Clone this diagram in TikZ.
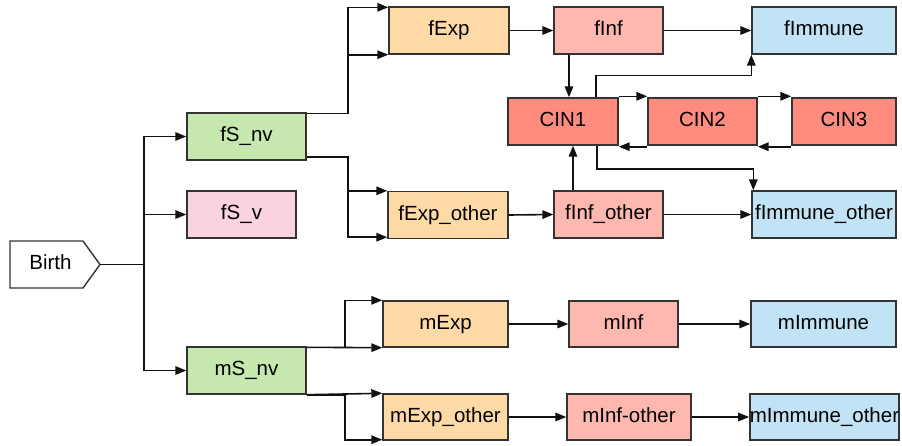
\documentclass[tikz,border=0pt]{standalone}
\usepackage{fontspec}
\setmainfont{Liberation Sans}
\usetikzlibrary{arrows.meta}
\definecolor{cgreen}{HTML}{C6E7AE}
\definecolor{cpink}{HTML}{F9D3DF}
\definecolor{corange}{HTML}{FFDAA6}
\definecolor{cinf}{HTML}{FFB8AF}
\definecolor{ccin}{HTML}{FF8C7E}
\definecolor{cblue}{HTML}{C2E3F5}
\definecolor{cline}{HTML}{111111}
\tikzset{
  lbl/.style={font=\fontsize{20.5pt}{24pt}\selectfont, text=black},
  box/.style={lbl, draw=black!80, line width=1.4pt, inner sep=0pt, minimum height=47pt,
    text height=15pt, text depth=4.5pt},
  arr/.style={draw=cline, line width=1.6pt, -{Triangle[length=11pt,width=8.5pt]}},
  ln/.style={draw=cline, line width=1.6pt},
}
\begin{document}
\begin{tikzpicture}[x=1pt,y=-1pt]
\useasboundingbox (0,0) rectangle (902,445);
% Birth
\coordinate (birthtip) at (100,264.5);
\draw[draw=black!80, line width=1.4pt, fill=white] (10,241) -- (83,241) -- (birthtip) -- (83,288) -- (10,288) -- cycle;
\node[lbl, inner sep=0pt, text height=15pt, text depth=4.5pt] (birth) at (50.5,264.5) {Birth};
\coordinate (trunk) at (144,264.5);

% boxes
\node[box, fill=cgreen, minimum width=119pt] (fSnv) at (246.5,136.5) {fS\_nv};
\node[box, fill=cpink, minimum width=109pt] (fSv) at (241.5,214.5) {fS\_v};
\node[box, fill=cgreen, minimum width=119pt] (mSnv) at (246.5,370.5) {mS\_nv};
\node[box, fill=corange, minimum width=120pt] (fExp) at (449,30.5) {fExp};
\node[box, fill=corange, minimum width=120pt] (fExpo) at (448,215) {fExp\_other};
\node[box, fill=cinf, minimum width=109pt] (fInf) at (608.5,30.5) {fInf};
\node[box, fill=cblue, minimum width=144pt] (fImm) at (824,30.5) {fImmune};
\node[box, fill=ccin, minimum width=110pt] (cin1) at (563,121.5) {CIN1};
\node[box, fill=ccin, minimum width=109pt] (cin2) at (702.5,121.5) {CIN2};
\node[box, fill=ccin, minimum width=104pt] (cin3) at (844,121.5) {CIN3};
\node[box, fill=cinf, minimum width=109pt] (fInfo) at (608.5,214.5) {fInf\_other};
\node[box, fill=cblue, minimum width=144pt] (fImmo) at (824,214.5) {fImmune\_other};
\node[box, fill=corange, minimum width=125pt, minimum height=46pt] (mExp) at (445.5,324) {mExp};
\node[box, fill=corange, minimum width=125pt, minimum height=46pt] (mExpo) at (445.5,417) {mExp\_other};
\node[box, fill=cinf, minimum width=109pt, minimum height=46pt] (mInf) at (623.5,324) {mInf};
\node[box, fill=cinf, minimum width=124pt, minimum height=46pt] (mInfo) at (629,417) {mInf-other};
\node[box, fill=cblue, minimum width=145pt, minimum height=46pt] (mImm) at (823.5,324) {mImmune};
\node[box, fill=cblue, minimum width=147pt, minimum height=46pt] (mImmo) at (824.5,417) {mImmune\_other};

% Birth trunk
\draw[ln] (birthtip) -- (trunk);
\draw[arr] (trunk) |- (fSnv.west);
\draw[arr] (trunk) |- (fSv.west);
\draw[arr] (trunk) |- (mSnv.west);

% fS_nv branches
\draw[arr] ([yshift=-1pt]fSnv.north east) -- ++(41,0) |- ([yshift=-1pt]fExp.north west);
\draw[arr] ([yshift=-1pt]fSnv.north east) -- ++(41,0) |- (fExp.south west);
\draw[arr] ([yshift=4pt]fSnv.south east) -- ++(41,0) |- (fExpo.north west);
\draw[arr] ([yshift=4pt]fSnv.south east) -- ++(41,0) |- ([yshift=2pt]fExpo.south west);

% f chain
\draw[arr] (fExp.east) -- (fInf.west);
\draw[arr] (fInf.east) -- (fImm.west);
\draw[arr] (fExpo.east) -- (fInfo.west);
\draw[arr] (fInfo.east) -- (fImmo.west);
\draw[arr] ([xshift=-39.5pt]fInf.south) -- ([xshift=6pt]cin1.north);
\draw[arr] ([xshift=-35.5pt]fInfo.north) -- ([xshift=10pt]cin1.south);

% CIN
\draw[arr] ([yshift=1pt]cin1.north east) -- ([yshift=1pt]cin2.north west);
\draw[arr] ([yshift=-1pt]cin2.south west) -- ([yshift=-1pt]cin1.south east);
\draw[arr] ([yshift=1pt]cin2.north east) -- ([yshift=1pt]cin3.north west);
\draw[arr] ([yshift=-1pt]cin3.south west) -- ([yshift=-1pt]cin2.south east);
\draw[arr] ([xshift=33pt]cin1.north) -- ++(0,-22) -| (fImm.south west);
\draw[arr] ([xshift=34pt]cin1.south) -- ++(0,23) -| ([xshift=2pt]fImmo.north west);

% mS_nv branches
\draw[arr] ([yshift=-1pt]mSnv.north east) -- ++(38,0) |- (mExp.north west);
\draw[arr] ([yshift=-1pt]mSnv.north east) -- (mExp.south west);
\draw[arr] (mSnv.south east) -- (mExpo.north west);
\draw[arr] (mSnv.south east) -- ++(38,0) |- ([yshift=1pt]mExpo.south west);

% m chain
\draw[arr] (mExp.east) -- (mInf.west);
\draw[arr] (mInf.east) -- (mImm.west);
\draw[arr] (mExpo.east) -- (mInfo.west);
\draw[arr] (mInfo.east) -- (mImmo.west);
\end{tikzpicture}
\end{document}
